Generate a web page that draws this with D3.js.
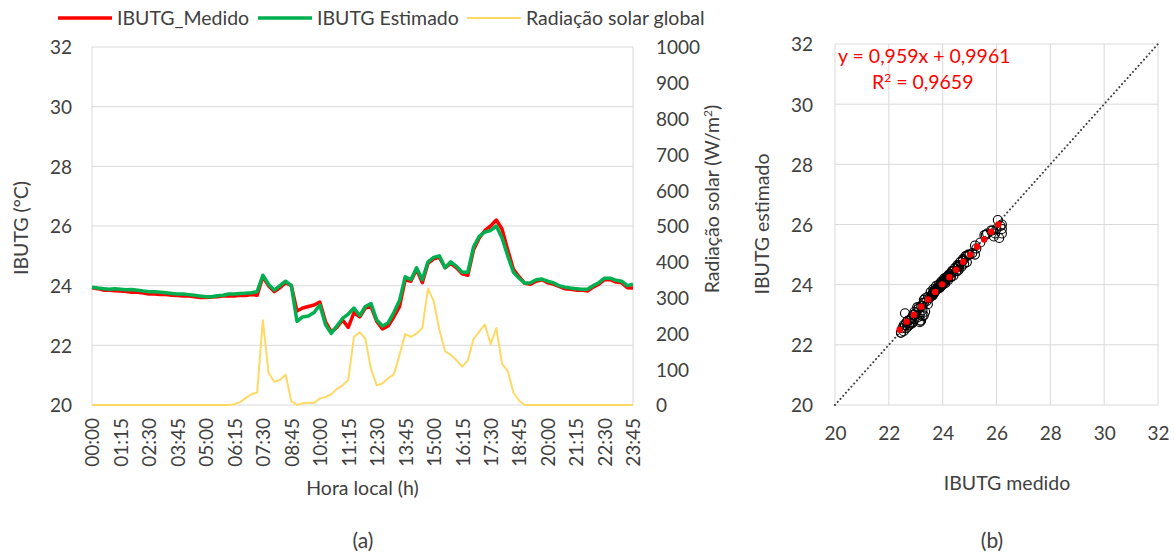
<!DOCTYPE html>
<meta charset="utf-8">
<script src="https://d3js.org/d3.v7.min.js"></script>
<style type="text/css">
body { margin: 0; background: #fff; }
svg text { font-family: Lato, "Open Sans", sans-serif; fill: #404040; }
.tick text { font-size: 19px; }
.axis path, .axis line { display: none; }
.grid line { stroke: #d9d9d9; stroke-width: 1px; }
.title { font-size: 19.5px; }
</style>
<body>
<script>

// IBUTG measured / estimated, one value every 15 min (00:00 .. 23:45)
var ibutgMedido = [
  23.93, 23.90, 23.85, 23.85, 23.83, 23.82, 23.80, 23.78, 23.78, 23.75,
  23.72, 23.72, 23.70, 23.70, 23.68, 23.67, 23.65, 23.65, 23.63, 23.60,
  23.60, 23.62, 23.63, 23.65, 23.66, 23.65, 23.68, 23.67, 23.70, 23.68,
  24.30, 24.00, 23.80, 23.93, 24.10, 24.00, 23.15, 23.25, 23.30, 23.35,
  23.45, 22.80, 22.45, 22.60, 22.85, 22.60, 23.10, 22.95, 23.25, 23.30,
  22.80, 22.55, 22.65, 22.95, 23.30, 24.20, 24.15, 24.55, 24.10, 24.75,
  24.90, 24.95, 24.60, 24.75, 24.60, 24.40, 24.35, 25.20, 25.60, 25.85,
  26.00, 26.20, 25.90, 25.20, 24.55, 24.30, 24.08, 24.05, 24.15, 24.20,
  24.10, 24.05, 23.98, 23.90, 23.88, 23.85, 23.85, 23.82, 23.95, 24.05,
  24.20, 24.20, 24.12, 24.10, 23.93, 23.92
];
var ibutgEstimado = [
  23.95, 23.92, 23.90, 23.88, 23.90, 23.88, 23.86, 23.87, 23.85, 23.82,
  23.80, 23.80, 23.78, 23.76, 23.74, 23.72, 23.72, 23.70, 23.68, 23.65,
  23.63, 23.63, 23.66, 23.68, 23.72, 23.72, 23.74, 23.75, 23.76, 23.80,
  24.35, 24.05, 23.85, 24.00, 24.15, 24.00, 22.80, 22.95, 22.98, 23.10,
  23.35, 22.70, 22.40, 22.65, 22.90, 23.05, 23.25, 23.00, 23.30, 23.40,
  22.85, 22.65, 22.75, 23.10, 23.50, 24.30, 24.20, 24.60, 24.20, 24.80,
  24.95, 25.00, 24.60, 24.80, 24.65, 24.45, 24.45, 25.30, 25.65, 25.80,
  25.85, 26.00, 25.60, 25.00, 24.45, 24.25, 24.08, 24.10, 24.20, 24.22,
  24.15, 24.10, 24.00, 23.95, 23.92, 23.90, 23.88, 23.88, 24.00, 24.10,
  24.25, 24.25, 24.18, 24.15, 24.00, 24.05
];
// global solar radiation (W/m2)
var radiacao = [
  0, 0, 0, 0, 0, 0, 0, 0, 0, 0,
  0, 0, 0, 0, 0, 0, 0, 0, 0, 0,
  0, 0, 0, 0, 0, 2, 8, 20, 30, 35,
  237, 90, 65, 70, 85, 10, 0, 5, 6, 6,
  18, 22, 30, 45, 55, 70, 190, 203, 185, 100,
  55, 60, 75, 85, 140, 198, 190, 200, 215, 325,
  290, 210, 150, 140, 125, 107, 125, 185, 205, 225,
  170, 215, 115, 95, 35, 12, 0, 0, 0, 0,
  0, 0, 0, 0, 0, 0, 0, 0, 0, 0,
  0, 0, 0, 0, 0, 0
];
var tickLabels = ["00:00", "01:15", "02:30", "03:45", "05:00", "06:15", "07:30", "08:45", "10:00", "11:15",
  "12:30", "13:45", "15:00", "16:15", "17:30", "18:45", "20:00", "21:15", "22:30", "23:45"];

// extra (medido, estimado) pairs of the dense cloud in chart (b)
var nuvemMedido = [
  22.45, 22.50, 22.55, 22.60, 22.65, 22.70, 22.75, 22.80, 22.85, 22.90,
  22.95, 23.00, 23.05, 23.10, 23.15, 23.20, 23.25, 23.20, 23.15, 23.05,
  22.90, 22.70, 23.30, 23.35, 23.40, 23.45, 23.50, 23.55, 23.60, 23.65,
  23.70, 23.75, 23.80, 23.85, 23.90, 23.95, 24.00, 24.05, 24.10, 24.15,
  24.20, 24.25, 24.30, 24.35, 24.40, 24.45, 24.50, 24.55, 24.60, 24.65,
  24.70, 24.75, 24.80, 24.85, 24.90, 25.00, 25.10, 25.25, 25.40, 25.55,
  25.65, 25.80, 25.95, 26.05, 26.15, 26.20, 26.20, 26.10
];
var nuvemEstimado = [
  22.40, 22.55, 22.45, 22.65, 22.55, 22.80, 22.65, 22.85, 22.70, 23.00,
  22.85, 23.05, 22.90, 23.20, 23.00, 23.30, 23.15, 22.80, 22.75, 23.25,
  22.75, 22.60, 23.40, 23.55, 23.45, 23.60, 23.55, 23.75, 23.65, 23.85,
  23.75, 23.95, 23.85, 24.00, 23.90, 24.10, 24.00, 24.20, 24.05, 24.25,
  24.15, 24.35, 24.25, 24.45, 24.30, 24.55, 24.45, 24.65, 24.50, 24.75,
  24.60, 24.85, 24.70, 24.95, 24.75, 25.00, 25.05, 25.20, 25.40, 25.65,
  25.70, 25.80, 25.70, 26.15, 25.95, 25.85, 25.70, 25.55
];

// regression line points (red markers) of chart (b)
var trendX = [22.40, 22.66, 22.93, 23.20, 23.46, 23.72, 23.98, 24.25, 24.50, 24.76, 25.02, 25.28, 25.54, 25.80, 26.07];
var trendY = [22.50, 22.77, 23.00, 23.27, 23.51, 23.76, 24.01, 24.25, 24.50, 24.76, 25.00, 25.26, 25.50, 25.76, 26.00];

var tempTicks = [20, 22, 24, 26, 28, 30, 32];
var radTicks = [0, 100, 200, 300, 400, 500, 600, 700, 800, 900, 1000];

var times = [];
for (var i = 0; i < ibutgMedido.length; i++) {
  var m = i * 15;
  times.push(String(Math.floor(m / 60)).padStart(2, "0") + ":" + String(m % 60).padStart(2, "0"));
}

var svg = d3.select("body").append("svg")
    .attr("width", 1175)
    .attr("height", 557);

// ---------- chart (a) ----------
var A = {left: 92, right: 633, top: 47, bottom: 405};

var x = d3.scalePoint().domain(times).range([A.left, A.right]);
var yT = d3.scaleLinear().domain([20, 32]).range([A.bottom, A.top]);
var yR = d3.scaleLinear().domain([0, 1000]).range([A.bottom, A.top]);

var ga = svg.append("g");

ga.append("g").attr("class", "grid")
  .selectAll("line").data(tempTicks).enter().append("line")
    .attr("x1", A.left).attr("x2", A.right)
    .attr("y1", function(d) { return yT(d); })
    .attr("y2", function(d) { return yT(d); });
ga.append("g").attr("class", "grid")
  .selectAll("line").data([A.left, A.right]).enter().append("line")
    .attr("x1", function(d) { return d; }).attr("x2", function(d) { return d; })
    .attr("y1", A.top).attr("y2", A.bottom);

ga.append("g").attr("class", "axis")
    .attr("transform", "translate(" + (A.left - 20) + ",0)")
    .call(d3.axisLeft(yT).tickValues(tempTicks).tickSize(0).tickPadding(0))
  .selectAll("text").attr("dy", "0.36em");

ga.append("g").attr("class", "axis")
    .attr("transform", "translate(" + (A.right + 23) + ",0)")
    .call(d3.axisRight(yR).tickValues(radTicks).tickFormat(d3.format("d")).tickSize(0).tickPadding(0))
  .selectAll("text").attr("dy", "0.36em");

ga.append("g").attr("class", "axis")
    .attr("transform", "translate(0," + (A.bottom + 13) + ")")
    .call(d3.axisBottom(x).tickValues(tickLabels).tickSize(0).tickPadding(0))
  .selectAll("text")
    .attr("transform", "rotate(-90)")
    .attr("text-anchor", "end")
    .attr("x", 0).attr("y", 0)
    .attr("dy", "0.36em");

function lineOf(arr, yScale) {
  return d3.line()
    .x(function(d, i) { return x(times[i]); })
    .y(function(d) { return yScale(d); })(arr);
}

ga.append("path").attr("d", lineOf(ibutgMedido, yT))
  .attr("fill", "none").attr("stroke", "#ff0000").attr("stroke-width", 3.5).attr("stroke-linejoin", "round");
ga.append("path").attr("d", lineOf(ibutgEstimado, yT))
  .attr("fill", "none").attr("stroke", "#00b050").attr("stroke-width", 3.5).attr("stroke-linejoin", "round");
ga.append("path").attr("d", lineOf(radiacao, yR))
  .attr("fill", "none").attr("stroke", "#ffd966").attr("stroke-width", 2).attr("stroke-linejoin", "round");

ga.append("text").attr("class", "title")
    .attr("transform", "translate(28,228) rotate(-90)")
    .attr("text-anchor", "middle")
    .text("IBUTG (°C)");
var rt = ga.append("text").attr("class", "title")
    .attr("transform", "translate(719,199) rotate(-90)")
    .attr("text-anchor", "middle")
    .text("Radiação solar (W/m");
rt.append("tspan").attr("baseline-shift", "super").attr("font-size", "12px").text("2");
rt.append("tspan").text(")");

ga.append("text").attr("class", "title")
    .attr("x", (A.left + A.right) / 2).attr("y", 495)
    .attr("text-anchor", "middle")
    .text("Hora local (h)");

ga.append("text").attr("class", "title").style("font-size", "21px")
    .attr("x", 363).attr("y", 548)
    .attr("text-anchor", "middle")
    .text("(a)");

// legend
var legend = [
  {name: "IBUTG_Medido", color: "#ff0000", w: 3.5, x: 58},
  {name: "IBUTG Estimado", color: "#00b050", w: 3.5, x: 258},
  {name: "Radiação solar global", color: "#ffd966", w: 2, x: 467}
];
var lg = ga.selectAll(".lg").data(legend).enter().append("g")
    .attr("transform", function(d) { return "translate(" + d.x + ",18)"; });
lg.append("line").attr("x1", 0).attr("x2", 54)
    .attr("stroke", function(d) { return d.color; })
    .attr("stroke-width", function(d) { return d.w; });
lg.append("text").attr("class", "title").attr("x", 59).attr("dy", "0.36em")
    .text(function(d) { return d.name; });

// ---------- chart (b) ----------
var B = {left: 835, right: 1158, top: 44, bottom: 405};
var sx = d3.scaleLinear().domain([20, 32]).range([B.left, B.right]);
var sy = d3.scaleLinear().domain([20, 32]).range([B.bottom, B.top]);

var gb = svg.append("g");

gb.append("g").attr("class", "grid")
  .selectAll("line").data(tempTicks).enter().append("line")
    .attr("x1", B.left).attr("x2", B.right)
    .attr("y1", function(d) { return sy(d); })
    .attr("y2", function(d) { return sy(d); });
gb.append("g").attr("class", "grid")
  .selectAll("line").data(tempTicks).enter().append("line")
    .attr("x1", function(d) { return sx(d); })
    .attr("x2", function(d) { return sx(d); })
    .attr("y1", B.top).attr("y2", B.bottom);

gb.append("g").attr("class", "axis")
    .attr("transform", "translate(" + (B.left - 22) + ",0)")
    .call(d3.axisLeft(sy).tickValues(tempTicks).tickSize(0).tickPadding(0))
  .selectAll("text").attr("dy", "0.36em");

gb.append("g").attr("class", "axis")
    .attr("transform", "translate(0," + (B.bottom + 28) + ")")
    .call(d3.axisBottom(sx).tickValues(tempTicks).tickSize(0).tickPadding(0))
  .selectAll("text").attr("dy", "0.36em");

// 1:1 line
gb.append("line")
    .attr("x1", sx(20)).attr("y1", sy(20))
    .attr("x2", sx(32)).attr("y2", sy(32))
    .attr("stroke", "#404040").attr("stroke-width", 2)
    .attr("stroke-dasharray", "0.1,4").attr("stroke-linecap", "round");

var pares = ibutgMedido.map(function(d, i) { return [d, ibutgEstimado[i]]; })
  .concat(nuvemMedido.map(function(d, i) { return [d, nuvemEstimado[i]]; }));

gb.append("g").selectAll("circle").data(pares).enter().append("circle")
    .attr("cx", function(d) { return sx(d[0]); })
    .attr("cy", function(d) { return sy(d[1]); })
    .attr("r", 4.5)
    .attr("fill", "none").attr("stroke", "#000").attr("stroke-width", 1.1);

gb.append("g").selectAll("circle").data(trendX).enter().append("circle")
    .attr("cx", function(d) { return sx(d); })
    .attr("cy", function(d, i) { return sy(trendY[i]); })
    .attr("r", 3.2)
    .attr("fill", "#ff0000");

gb.append("text").attr("class", "title").style("fill", "#ff0000")
    .attr("x", 838).attr("y", 63)
    .text("y = 0,959x + 0,9961");
var r2 = gb.append("text").attr("class", "title").style("fill", "#ff0000")
    .attr("x", 872).attr("y", 89)
    .text("R");
r2.append("tspan").attr("baseline-shift", "super").attr("font-size", "12px").text("2");
r2.append("tspan").text(" = 0,9659");

gb.append("text").attr("class", "title")
    .attr("transform", "translate(769,224) rotate(-90)")
    .attr("text-anchor", "middle")
    .text("IBUTG estimado");
gb.append("text").attr("class", "title")
    .attr("x", 1007).attr("y", 490)
    .attr("text-anchor", "middle")
    .text("IBUTG medido");
gb.append("text").attr("class", "title").style("font-size", "21px")
    .attr("x", 992).attr("y", 548)
    .attr("text-anchor", "middle")
    .text("(b)");

</script>
</body>
